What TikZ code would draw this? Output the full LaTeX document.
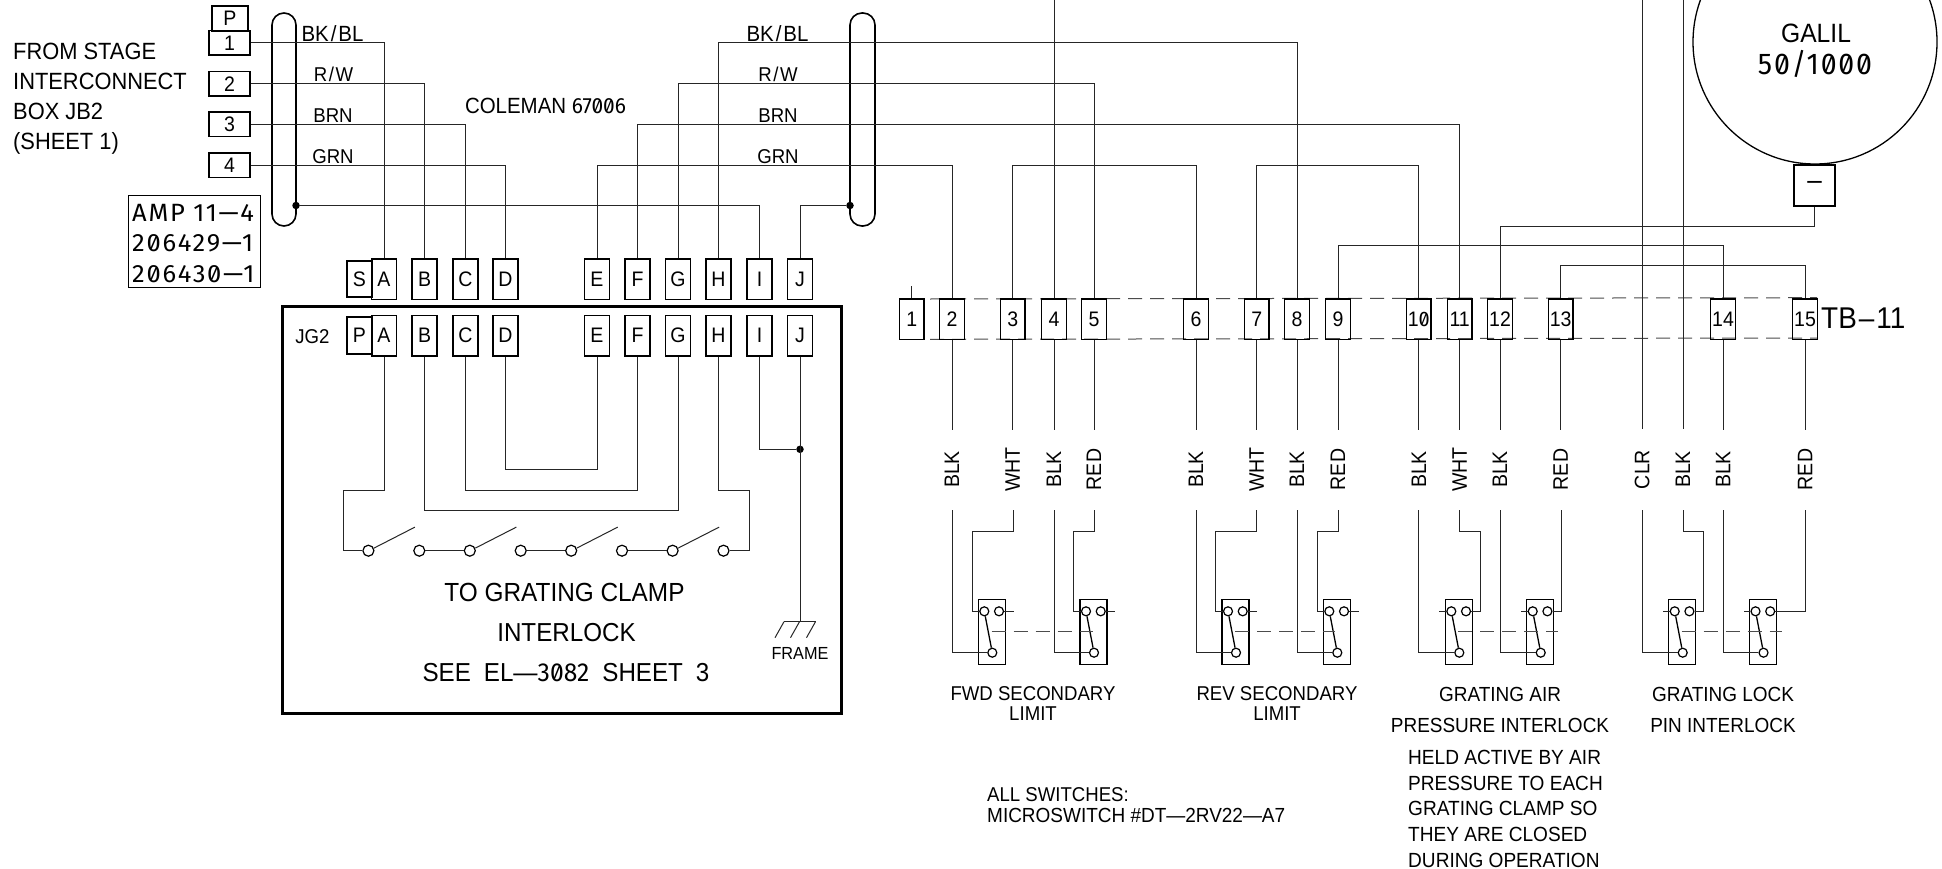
\documentclass[tikz,border=0pt]{standalone}
\usepackage{fontspec}
\setmainfont[FakeStretch=0.93]{Liberation Sans}
\newfontfamily\zf[RawFeature=+zero,FakeStretch=0.95]{Fira Sans}
\newfontfamily\zfw[RawFeature=+zero,FakeStretch=0.95,LetterSpace=6]{Fira Sans}
\newfontfamily\zfx[RawFeature=+zero,FakeStretch=1.02,LetterSpace=7]{Fira Sans}
\tikzset{
  wire/.style={line width=1pt,black!85},
  fs/.style={font=\fontsize{#1}{#1}\selectfont},
  txt/.style={inner sep=0pt,fs=#1},
  pin/.style={draw,line width=1.5pt,minimum width=25pt,minimum height=40.5pt,inner sep=0pt,fs=21},
  wpin/.style={draw,line width=1.5pt,minimum width=41pt,minimum height=24.5pt,inner sep=0pt,fs=21},
  wlab/.style={inner sep=0pt,fs=21,rotate=90},
  swbox/.style={draw,line width=1.3pt,minimum width=27pt,minimum height=65.5pt,inner sep=0pt},
  cir/.style={circle,draw,line width=1.2pt,fill=white,minimum size=#1,inner sep=0pt},
  cir/.default=9pt,
  dotn/.style={circle,fill=black,minimum size=7.5pt,inner sep=0pt},
  shield/.style={draw,line width=1.6pt,rounded corners=12pt,minimum height=213pt,inner sep=0pt},
  tie/.style={line width=1pt,black!70,dash pattern=on 14pt off 8pt}
}
% #1 name, #2 box left edge
\newcommand\swt[2]{%
  \node[swbox] (#1) at (#2+13.5,632) {};
  \node[cir] (#1a) at (#2+6,611.3) {};
  \node[cir] (#1b) at (#2+20.7,611.3) {};
  \node[cir] (#1c) at (#2+14,652.7) {};
  \draw[line width=1.3pt] (#1a) -- (#1c);
}
\begin{document}
\begin{tikzpicture}[x=1pt,y=-1pt]
\useasboundingbox (0,0) rectangle (1942,869);
\fill[white] (0,0) rectangle (1942,869);

% left text
\node[txt=23.5,anchor=base west] (t-a) at (13,59.5) {FROM STAGE};
\node[txt=23.5,anchor=base west] (t-b) at (13,89.5) {INTERCONNECT};
\node[txt=23.5,anchor=base west] (t-c) at (13,119.5) {BOX JB2};
\node[txt=23.5,anchor=base west] (t-d) at (13,149.5) {(SHEET 1)};

% stage pins
\node[draw,line width=1.5pt,minimum width=36pt,minimum height=25pt,inner sep=0pt,fs=21] (wP) at (230,18.5) {P};
\node[wpin] (w1) at (229.5,43) {1};
\node[wpin] (w2) at (229.5,84) {2};
\node[wpin] (w3) at (229.5,124.5) {3};
\node[wpin] (w4) at (229.5,165.5) {4};

% AMP box
\node[draw,line width=1pt,minimum width=132pt,minimum height=91pt,inner sep=0pt] (amp) at (194,241.5) {};
\node[txt=25,anchor=base west] (amp1) at (132,221) {\zfx AMP 11—4};
\node[txt=25,anchor=base west] (amp2) at (132,251) {\zfx 206429—1};
\node[txt=25,anchor=base west] (amp3) at (132,282) {\zfx 206430—1};

% shields
\node[shield,minimum width=24pt] (shL) at (284,119.5) {};
\node[shield,minimum width=25pt] (shR) at (862.5,119.5) {};
\node[dotn] (dL) at (296,205.5) {};
\node[dotn] (dR) at (850,205.5) {};

% connector labels
\node[txt=22] (lb1) at (332.5,34) {BK\kern2pt/\kern2pt BL};
\node[txt=20] (lb2) at (333.5,74.5) {R\kern1.5pt/\kern1.5pt W};
\node[txt=20] (lb3) at (333,115.5) {BRN};
\node[txt=20] (lb4) at (333,156.5) {GRN};
\node[txt=22] (rb1) at (777.5,34) {BK\kern2pt/\kern2pt BL};
\node[txt=20] (rb2) at (778,74.5) {R\kern1.5pt/\kern1.5pt W};
\node[txt=20] (rb3) at (778,115.5) {BRN};
\node[txt=20] (rb4) at (778,156.5) {GRN};
\node[txt=22] (cole) at (545.5,105.5) {COLEMAN {\zf 67006}};

% upper connector
\node[draw,line width=1.5pt,minimum width=25pt,minimum height=36pt,inner sep=0pt,fs=21] (tS) at (359.5,279) {S};
\foreach \n/\xx in {A/384,B/424.6,C/465.5,D/505.5,E/597,F/637.6,G/678,H/718.5,I/759.7,J/800}
  \node[pin] (t\n) at (\xx,279) {\n};

% JG2 box
\node[draw,line width=3pt,minimum width=559pt,minimum height=406.5pt,inner sep=0pt] (jg) at (562,510) {};
\node[txt=20] (jg2) at (312.5,336.7) {JG2};
\node[draw,line width=1.5pt,minimum width=25pt,minimum height=37pt,inner sep=0pt,fs=21] (lP) at (359.5,335.5) {P};
\foreach \n/\xx in {A/384,B/424.6,C/465.5,D/505.5,E/597,F/637.6,G/678,H/718.5,I/759.7,J/800}
  \node[pin] (l\n) at (\xx,335.5) {\n};

% top wiring left
\draw[wire] (w1.east) -| (tA.north);
\draw[wire] (w2.east) -| (tB.north);
\draw[wire] (w3.east) -| (tC.north);
\draw[wire] (w4.east) -| (tD.north);
\draw[wire] (dL) -| (tI.north);
\draw[wire] (dR) -| (tJ.north);

% contacts inside box
\foreach \i/\xx in {1/368.4,2/419.3,3/469.8,4/520.7,5/571.2,6/622,7/672.6,8/723.5}
  \node[cir=11pt] (c\i) at (\xx,550.7) {};
\foreach \i in {1,3,5,7}
  \draw[wire] (c\i.25) -- ++(41,-21);
\draw[wire] (c2) -- (c3);
\draw[wire] (c4) -- (c5);
\draw[wire] (c6) -- (c7);
\draw[wire] (lA.south) |- (343.5,490) |- (c1);
\draw[wire] (lH.south) |- (749,490) |- (c8);
\draw[wire] (lB.south) |- (lB.south |- 0,510.3) -| (lG.south);
\draw[wire] (lC.south) |- (lC.south |- 0,490) -| (lF.south);
\draw[wire] (lD.south) |- (lD.south |- 0,469.3) -| (lE.south);

% frame ground
\node[dotn] (dF) at (800,449.3) {};
\coordinate (gnd) at (800,621.7);
\draw[wire] (lI.south) |- (dF);
\draw[wire] (lJ.south) -- (gnd);
\draw[wire] (784,621.7) -- (815.5,621.7);
\draw[wire] (784,621.7) -- ++(-9,16);
\draw[wire] (799.5,621.7) -- ++(-9,16);
\draw[wire] (815.5,621.7) -- ++(-9,16);
\node[txt=17.5] (frame) at (800,653.5) {FRAME};

% centre text
\node[txt=26.2] (g1) at (564.5,592) {TO GRATING CLAMP};
\node[txt=26] (g2) at (566.5,632.5) {INTERLOCK};
\node[txt=26] (g3) at (566,673) {\spaceskip=.5em SEE EL—{\zf 3082} SHEET 3};

% terminal strip
\draw[tie] (930,299) -- (1817,297.7);
\draw[tie] (930,339.3) -- (1817,338);
\foreach \n/\xx in {1/911.8,2/952,3/1012.7,4/1054,5/1094,6/1196,7/1256.7,8/1297,9/1338,10/1418.8,11/1459.7,12/1500,13/1560.6,14/1723,15/1805}
  \node[draw,line width=1.5pt,minimum width=24.6pt,minimum height=40.5pt,inner sep=0pt,fs=21] (n\n) at (\xx,319) {\ifnum\n=10 1{\zf 0}\else\n\fi};
\draw[wire] (n1.north) -- ++(0,-12);
\node[txt=30,anchor=west] (tb) at (1821,318) {TB\kern2pt–\kern2pt 11};

% top wiring right
\draw[wire] (tH.north) -- (tH.north |- w1.east) -| (n8.north);
\draw[wire] (tG.north) -- (tG.north |- w2.east) -| (n5.north);
\draw[wire] (tF.north) -- (tF.north |- w3.east) -| (n11.north);
\draw[wire] (tE.north) -- (tE.north |- w4.east) -| (n2.north);
\draw[wire] (n3.north) -- (n3.north |- w4.east) -| (n6.north);
\draw[wire] (n7.north) -- (n7.north |- w4.east) -| (n10.north);
\coordinate (top4) at (1054,0);
\draw[wire] (n4.north) -- (top4);
\draw[wire] (n9.north) -- ++(0,-52.3) -| (n14.north);
\draw[wire] (n13.north) -- ++(0,-32.3) -| (n15.north);

% Galil
\begin{scope}
\clip (0,0) rectangle (1942,869);
\node[circle,draw,line width=1.3pt,minimum size=244pt,inner sep=0pt] (galil) at (1815,42) {};
\end{scope}
\node[txt=26.5] (gal1) at (1816,33) {GALIL};
\node[txt=30] (gal2) at (1815,64) {\zfw 50/1000};
\node[draw,line width=1.1pt,minimum width=41pt,minimum height=41pt,inner sep=0pt,fs=28] (neg) at (1814.5,185.5) {–};
\draw[wire] (neg.south) -- ++(0,20) -| (n12.north);

% colour labels and wires
\foreach \n/\xx/\c/\low in {2/952/BLK/952,3/1012.7/WHT/1013,4/1054/BLK/1054,5/1094/RED/1094.7,6/1196/BLK/1196,7/1256.7/WHT/1256.7,8/1297/BLK/1297,9/1338/RED/1338.7,10/1418.8/BLK/1418.8,11/1459.7/WHT/1459.5,12/1500/BLK/1500,13/1560.6/RED/1561,14/1723/BLK/1723,15/1805/RED/1805}{
  \node[wlab] (k\n) at (\xx,469.5) {\c};
  \draw[wire] (n\n.south) -- ++(0,90);
  \coordinate (e\n) at (\low,510);
}
\coordinate (topa) at (1642,0);
\coordinate (topb) at (1683,0);
\node[wlab] (kA) at (1642,469.5) {CLR};
\node[wlab] (kB) at (1683,469.5) {BLK};
\draw[wire] (topa) -- ++(0,429);
\draw[wire] (topb) -- ++(0,429);
\coordinate (eA) at (1642,510);
\coordinate (eB) at (1683,510);

% switches
\swt{Fa}{978.3}
\swt{Fb}{1080}
\swt{Ra}{1222}
\swt{Rb}{1323.3}
\swt{Aa}{1445.3}
\swt{Ab}{1526.7}
\swt{La}{1668.7}
\swt{Lb}{1749.5}

\draw[wire] (e2) |- (Fac);
\draw[wire] (e3) |- (972.7,531) |- (Faa);
\draw[wire] (Fab) -- ++(14.5,0);
\draw[wire] (e4) |- (Fbc);
\draw[wire] (e5) |- (1073.7,531) |- (Fba);
\draw[wire] (Fbb) -- ++(14.5,0);
\draw[tie] (991.7,631.7) -- (1093.3,631.7);

\draw[wire] (e6) |- (Rac);
\draw[wire] (e7) |- (1215.7,531) |- (Raa);
\draw[wire] (Rab) -- ++(14.5,0);
\draw[wire] (e8) |- (Rbc);
\draw[wire] (e9) |- (1317.7,531) |- (Rba);
\draw[wire] (Rbb) -- ++(14.5,0);
\draw[tie] (1235,631.7) -- (1335,631.7);

\draw[wire] (e10) |- (Aac);
\draw[wire] (e11) |- (1480.7,531) |- (Aab);
\draw[wire] (Aaa) -- ++(-12,0);
\draw[wire] (e12) |- (Abc);
\draw[wire] (e13) |- (Abb);
\draw[wire] (Aba) -- ++(-12,0);
\draw[tie] (1458.3,631.7) -- (1558.3,631.7);

\draw[wire] (eA) |- (Lac);
\draw[wire] (eB) |- (1703,531) |- (Lab);
\draw[wire] (Laa) -- ++(-12,0);
\draw[wire] (e14) |- (Lbc);
\draw[wire] (e15) |- (Lbb);
\draw[wire] (Lba) -- ++(-12,0);
\draw[tie] (1681.7,631.7) -- (1781.7,631.7);

% captions
\node[txt=20] (cap1) at (1033,694) {FWD SECONDARY};
\node[txt=20] (cap1b) at (1033,713.5) {LIMIT};
\node[txt=20] (cap2) at (1277,694) {REV SECONDARY};
\node[txt=20] (cap2b) at (1277,713.5) {LIMIT};
\node[txt=20.4] (cap3) at (1500,694.5) {GRATING AIR};
\node[txt=20.4] (cap3b) at (1500,725) {PRESSURE INTERLOCK};
\node[txt=20.4] (cap4) at (1723,694.5) {GRATING LOCK};
\node[txt=20.4] (cap4b) at (1723,725) {PIN INTERLOCK};
\node[txt=20.5,anchor=west] (h1) at (1408,757) {HELD ACTIVE BY AIR};
\node[txt=20.5,anchor=west] (h2) at (1408,783) {PRESSURE TO EACH};
\node[txt=20.5,anchor=west] (h3) at (1408,808) {GRATING CLAMP SO};
\node[txt=20.5,anchor=west] (h4) at (1408,834) {THEY ARE CLOSED};
\node[txt=20.5,anchor=west] (h5) at (1408,860) {DURING OPERATION};
\node[txt=20,anchor=west] (all1) at (987,795) {ALL SWITCHES:};
\node[txt=20.4,anchor=west] (all2) at (987,815) {MICROSWITCH \#DT—2RV22—A7};
\end{tikzpicture}
\end{document}
